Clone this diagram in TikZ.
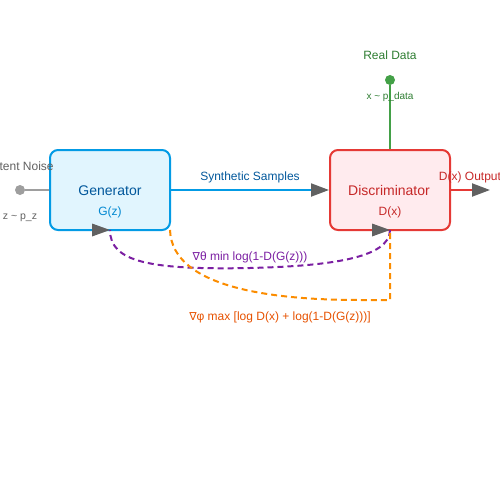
\documentclass[tikz,border=0pt]{standalone}
\usepackage{fontspec}
\setmainfont{Liberation Sans}
\newfontfamily\symfont{DejaVu Sans}
\usetikzlibrary{arrows.meta}
\definecolor{genfill}{HTML}{E1F5FE}
\definecolor{genline}{HTML}{039BE5}
\definecolor{gentext}{HTML}{01579B}
\definecolor{gensub}{HTML}{0288D1}
\definecolor{disfill}{HTML}{FFEBEE}
\definecolor{disline}{HTML}{E53935}
\definecolor{distext}{HTML}{C62828}
\definecolor{greenline}{HTML}{43A047}
\definecolor{greentext}{HTML}{2E7D32}
\definecolor{graydot}{HTML}{9E9E9E}
\definecolor{graytext}{HTML}{616161}
\definecolor{tipgray}{HTML}{616161}
\definecolor{purp}{HTML}{7B1FA2}
\definecolor{orng}{HTML}{FB8C00}
\definecolor{orngtext}{HTML}{E65100}
\tikzset{
  box/.style={rounded corners=8pt, line width=2pt, minimum width=120pt, minimum height=80pt, inner sep=0pt},
  tri/.style={-{Triangle[length=18pt,width=13pt,color=tipgray]}},
  dsh/.style={dash pattern=on 6pt off 4pt, line width=2pt},
  lbl/.style={inner sep=0pt, anchor=base},
}
\begin{document}
\begin{tikzpicture}[x=1pt,y=-1pt]
\useasboundingbox (0,0) rectangle (500,500);
% boxes
\node[box, draw=genline, fill=genfill] (gen) at (110,190) {};
\node[box, draw=disline, fill=disfill] (dis) at (390,190) {};
\node[lbl, font=\fontsize{14}{14}\selectfont, text=gentext] (gent) at (110,195) {Generator};
\node[lbl, font=\fontsize{12}{12}\selectfont, text=gensub] (gens) at (110,215) {G(z)};
\node[lbl, font=\fontsize{14}{14}\selectfont, text=distext] (dist) at (389,195) {Discriminator};
\node[lbl, font=\fontsize{12}{12}\selectfont, text=distext] (diss) at (390,215) {D(x)};
% latent noise
\node[circle, fill=graydot, inner sep=0pt, minimum size=10pt] (noise) at (20,190) {};
\draw[graydot, line width=2pt] (noise) -- (gen.west);
\node[lbl, font=\fontsize{12}{12}\selectfont, text=graytext] (noiset) at (20,170) {Latent Noise};
\node[lbl, font=\fontsize{10.5}{10.5}\selectfont, text=graytext] (noises) at (20,219) {z \textasciitilde{} p\_z};
% real data
\node[circle, fill=greenline, inner sep=0pt, minimum size=10pt] (real) at (390,80) {};
\draw[greenline, line width=2pt] (real) -- (dis.north);
\node[lbl, font=\fontsize{12}{12}\selectfont, text=greentext] (realt) at (390,60) {Real Data};
\node[lbl, font=\fontsize{10}{10}\selectfont, text=greentext] (reals) at (390,100) {x \textasciitilde{} p\_data};
% synthetic samples
\draw[genline, line width=2pt, tri] (gen.east) -- (dis.west);
\node[lbl, font=\fontsize{12}{12}\selectfont, text=gentext] (synt) at (250,180) {Synthetic Samples};
% output
\coordinate (out) at (490,190);
\draw[disline, line width=2pt, tri] (dis.east) -- (out);
\node[lbl, font=\fontsize{12}{12}\selectfont, text=distext] (outt) at (470,180) {D(x) Output};
% gradient paths
\coordinate (gb) at (110,230);
\coordinate (gr) at (170,230);
\coordinate (db) at (390,230);
\coordinate (dc) at (390,300);
\draw[purp, dsh] (db) .. controls (390,258) and (330,266) .. (250,268) .. controls (150,270) and (110,262) .. (gb);
\fill[tipgray] (110,230) -- (92,223.5) -- (92,236.5) -- cycle;
\draw[orng, dsh] (gr) .. controls (172,290) and (280,300) .. (360,300) -- (dc) -- (db);
\fill[tipgray] (390,230) -- (372,223.5) -- (372,236.5) -- cycle;
\node[lbl, font=\fontsize{12}{12}\selectfont, text=purp] (gradg) at (250,260) {{\symfont\fontsize{11}{11}\selectfont ∇}θ min log(1-D(G(z)))};
\node[lbl, font=\fontsize{12}{12}\selectfont, text=orngtext] (gradd) at (280,320) {{\symfont\fontsize{11}{11}\selectfont ∇}φ max [log D(x) + log(1-D(G(z)))]};
\end{tikzpicture}
\end{document}
